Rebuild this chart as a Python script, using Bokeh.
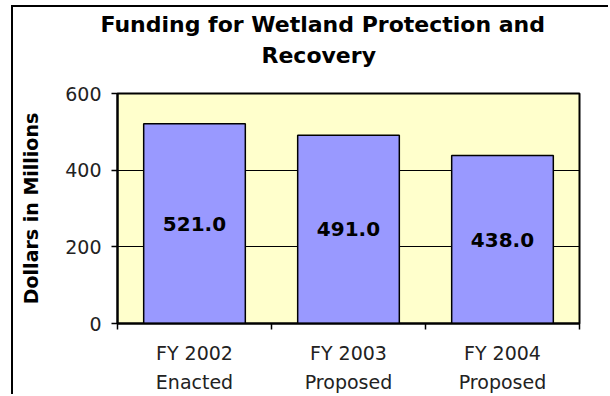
from bokeh.plotting import figure
from bokeh.models import Title, FixedTicker, ColumnDataSource, Range1d
from bokeh.core.properties import value
from bokeh.embed import file_html
from bokeh.resources import INLINE

categories = ["FY 2002\nEnacted", "FY 2003\nProposed", "FY 2004\nProposed"]
values = [521.0, 491.0, 438.0]
y_ticks = [0, 200, 400, 600]
title_lines = ["Funding for Wetland Protection and", "Recovery"]
y_label = "Dollars in Millions"

FONT = "DejaVu Sans"

xs = [i + 0.5 for i in range(len(categories))]
src = ColumnDataSource(dict(
    x=xs, top=values, mid=[v / 2 for v in values],
    lab=[f"{v:.1f}" for v in values]))

p = figure(width=597, height=389, output_backend="svg", toolbar_location=None,
           title=None,
           x_range=Range1d(0, len(categories)), y_range=Range1d(0, 600),
           min_border_left=104, min_border_right=31, min_border_bottom=73,
           min_border_top=84)
p.styles = {"margin-left": "11px", "margin-top": "5px",
            "border-left": "2px solid black", "border-top": "2px solid black"}

p.background_fill_color = "#FFFFCC"
p.border_fill_color = "white"
p.outline_line_color = "black"
p.outline_line_width = 2

p.vbar(x="x", top="top", width=0.66, source=src,
       fill_color="#9999FF", line_color="black", line_width=1.5)
p.text(x="x", y="mid", text="lab", source=src, text_align="center",
       text_baseline="middle", text_font=value(FONT), text_font_size="20px",
       text_font_style="bold", text_color="black")

# titles (added nearest-first); an empty spacer sits between frame and title
spacer = Title(text=" ", text_font=FONT, text_font_size="15px", standoff=4)
t2 = Title(text=title_lines[1], align="left", offset=144,
           text_font=FONT, text_font_size="22px", text_font_style="bold",
           text_color="black", standoff=4)
t1 = Title(text=title_lines[0], align="left", offset=-17,
           text_font=FONT, text_font_size="22px", text_font_style="bold",
           text_color="black", standoff=4)
p.add_layout(spacer, "above")
p.add_layout(t2, "above")
p.add_layout(t1, "above")

# y axis
p.yaxis.ticker = FixedTicker(ticks=y_ticks)
p.yaxis.axis_label = y_label
p.yaxis.axis_label_text_font = FONT
p.yaxis.axis_label_text_font_size = "19px"
p.yaxis.axis_label_text_font_style = "bold"
p.yaxis.axis_label_text_color = "black"
p.yaxis.axis_label_standoff = 20
p.yaxis.major_label_text_font = FONT
p.yaxis.major_label_text_font_size = "19px"
p.yaxis.major_label_text_color = "#222222"
p.yaxis.major_label_standoff = 10
p.yaxis.major_tick_out = 6
p.yaxis.major_tick_in = 0
p.yaxis.major_tick_line_color = "black"
p.yaxis.major_tick_line_width = 1.5
p.yaxis.minor_tick_line_color = None
p.yaxis.axis_line_color = "black"
p.yaxis.axis_line_width = 2

# x axis: labels at bar centres, ticks at category boundaries
p.xaxis.ticker = FixedTicker(ticks=xs, minor_ticks=list(range(len(categories) + 1)))
p.xaxis.major_label_overrides = {x: c for x, c in zip(xs, categories)}
p.xaxis.major_label_text_font = FONT
p.xaxis.major_label_text_font_size = "19px"
p.xaxis.major_label_text_color = "#222222"
p.xaxis.major_label_text_line_height = 1.35
p.xaxis.major_label_standoff = 12
p.xaxis.major_tick_line_color = None
p.xaxis.minor_tick_line_color = "black"
p.xaxis.minor_tick_line_width = 1.5
p.xaxis.minor_tick_out = 6
p.xaxis.minor_tick_in = 0
p.xaxis.axis_line_color = "black"
p.xaxis.axis_line_width = 2

p.xgrid.grid_line_color = None
p.ygrid.ticker = FixedTicker(ticks=y_ticks)
p.ygrid.grid_line_color = "black"
p.ygrid.grid_line_width = 1

open("out.html", "w").write(file_html(p, INLINE))
